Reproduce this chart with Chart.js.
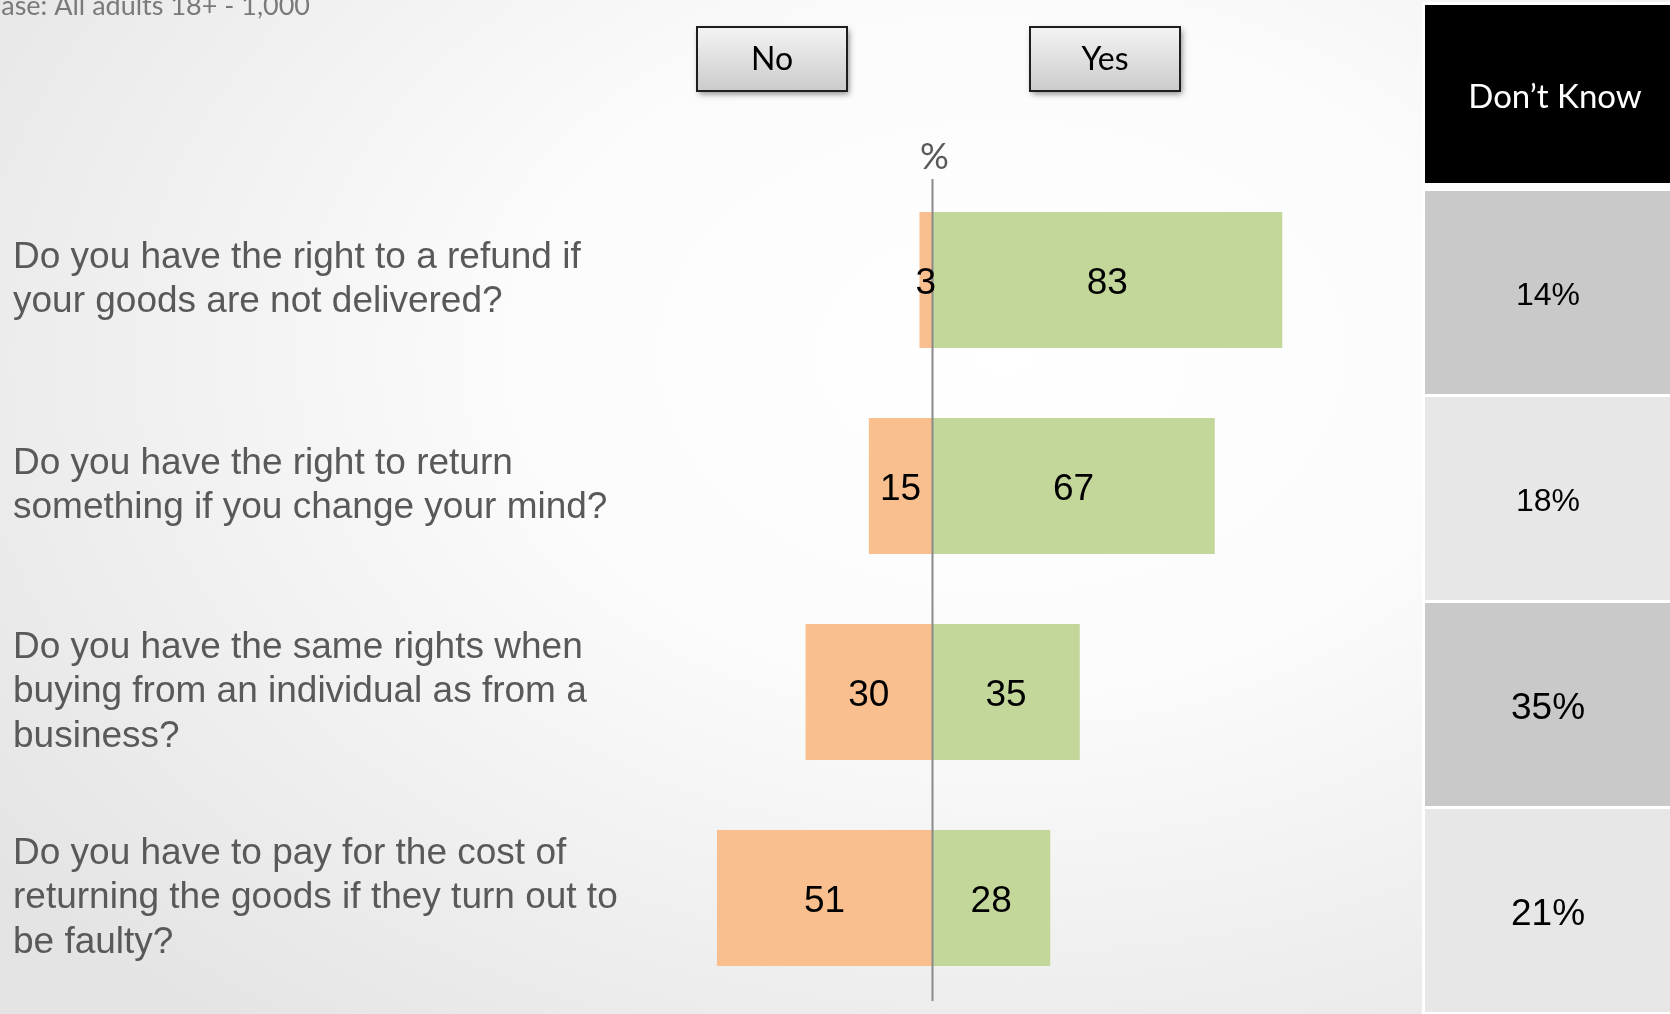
<!DOCTYPE html>
<html>
<head>
<meta charset="utf-8">
<script src="https://cdn.jsdelivr.net/npm/chart.js@4.4.0/dist/chart.umd.min.js"></script>
<style>
  html, body { margin: 0; padding: 0; }
  body {
    width: 1670px; height: 1014px; overflow: hidden;
    background: radial-gradient(ellipse 75% 85% at 60% 35%, #ffffff 0%, #fbfbfb 40%, #e4e4e4 100%);
  }
  canvas { display: block; }
</style>
</head>
<body>
<canvas id="dataChart" width="1670" height="1014"></canvas>
<script>
// questions (y axis), each one split into lines
const QUESTIONS = [
    ['Do you have the right to a refund if', 'your goods are not delivered?'],
    ['Do you have the right to return', 'something if you change your mind?'],
    ['Do you have the same rights when', 'buying from an individual as from a', 'business?'],
    ['Do you have to pay for the cost of', 'returning the goods if they turn out to', 'be faulty?']
];
const NO_VALUES = [3, 15, 30, 51];
const YES_VALUES = [83, 67, 35, 28];
const DONT_KNOW = [14, 18, 35, 21];
const SERIES_NAMES = ['No', 'Yes'];
const DONT_KNOW_TITLE = 'Don\u2019t Know';
const BASE_TEXT = 'Base: All adults 18+ - 1,000';

const ARIAL = '"Liberation Sans", Arial, sans-serif';
const CALIBRI = 'Lato, "Open Sans", sans-serif';

function drawButton(ctx, x, y, w, h, text) {
    ctx.save();
    ctx.shadowColor = 'rgba(0,0,0,0.45)';
    ctx.shadowBlur = 6;
    ctx.shadowOffsetX = 2;
    ctx.shadowOffsetY = 3;
    var g = ctx.createLinearGradient(0, y, 0, y + h);
    g.addColorStop(0, '#f4f4f4');
    g.addColorStop(1, '#cbcbcb');
    ctx.fillStyle = g;
    ctx.fillRect(x, y, w, h);
    ctx.restore();
    ctx.save();
    ctx.strokeStyle = '#1e1e1e';
    ctx.lineWidth = 2;
    ctx.strokeRect(x, y, w, h);
    ctx.fillStyle = '#000';
    ctx.font = '32px ' + CALIBRI;
    ctx.textAlign = 'center';
    ctx.textBaseline = 'middle';
    ctx.fillText(text, x + w / 2, y + h / 2 + 1);
    ctx.restore();
}

var extrasPlugin = {
    id: 'extras',
    afterDatasetsDraw: function (chart) {
        var ctx = chart.ctx;
        var xs = chart.scales.x, ys = chart.scales.y, area = chart.chartArea;
        ctx.save();

        // zero line
        var x0 = Math.round(xs.getPixelForValue(0)) + 0.5;
        ctx.strokeStyle = '#8a8a8a';
        ctx.lineWidth = 2;
        ctx.beginPath();
        ctx.moveTo(x0, area.top + 2);
        ctx.lineTo(x0, area.bottom);
        ctx.stroke();

        // value labels in the middle of each bar
        ctx.font = '37px ' + ARIAL;
        ctx.fillStyle = '#000';
        ctx.textAlign = 'center';
        ctx.textBaseline = 'middle';
        chart.data.datasets.forEach(function (ds, i) {
            chart.getDatasetMeta(i).data.forEach(function (bar, j) {
                ctx.fillText(String(Math.abs(ds.data[j])), (bar.x + bar.base) / 2, bar.y + 4);
            });
        });

        // % sign above the axis
        ctx.font = '36px ' + CALIBRI;
        ctx.fillStyle = '#595959';
        ctx.fillText('%', x0 + 2, 157);

        // base text, cut by the top-left corner
        ctx.font = '27px ' + CALIBRI;
        ctx.fillStyle = '#7a7a7a';
        ctx.textAlign = 'right';
        ctx.textBaseline = 'alphabetic';
        ctx.fillText(BASE_TEXT, 310, 15);

        // Don't Know column
        ctx.fillStyle = '#ffffff';
        ctx.fillRect(1422, 2, 248, 1012);
        ctx.fillStyle = '#000000';
        ctx.fillRect(1425, 5, 245, 178);
        ctx.fillStyle = '#ffffff';
        ctx.font = '33px ' + CALIBRI;
        ctx.textAlign = 'center';
        ctx.textBaseline = 'middle';
        ctx.fillText(DONT_KNOW_TITLE, 1555, 97);

        DONT_KNOW.forEach(function (v, i) {
            var c = ys.getPixelForValue(i);
            var top = c - 89, bottom = Math.min(c + 114, 1014);
            ctx.fillStyle = i % 2 === 0 ? '#c9c9c9' : '#e7e7e7';
            ctx.fillRect(1425, top, 245, bottom - top);
            ctx.fillStyle = '#000';
            ctx.font = (i < 2 ? 32 : 37) + 'px ' + ARIAL;
            ctx.fillText(v + '%', 1548, (top + bottom) / 2 + 4);
        });

        // No / Yes boxes
        drawButton(ctx, 697, 27, 150, 64, SERIES_NAMES[0]);
        drawButton(ctx, 1030, 27, 150, 64, SERIES_NAMES[1]);

        ctx.restore();
    }
};

var ctx = document.getElementById('dataChart').getContext('2d');
var myChart = new Chart(ctx, {
    type: 'bar',
    data: {
        labels: QUESTIONS,
        datasets: [{
            label: SERIES_NAMES[0],
            data: NO_VALUES.map(function (v) { return -v; }),
            backgroundColor: '#f9bf8f',
            borderWidth: 0,
            barPercentage: 0.66,
            categoryPercentage: 1.0
        }, {
            label: SERIES_NAMES[1],
            data: YES_VALUES,
            backgroundColor: '#c4d79b',
            borderWidth: 0,
            barPercentage: 0.66,
            categoryPercentage: 1.0
        }]
    },
    options: {
        indexAxis: 'y',
        responsive: false,
        animation: false,
        layout: { padding: { left: 13, right: 316, top: 177, bottom: 13 } },
        plugins: {
            legend: { display: false },
            tooltip: { enabled: false }
        },
        scales: {
            x: { stacked: true, display: false, min: -60, max: 100 },
            y: {
                stacked: true,
                grid: { display: false },
                border: { display: false },
                ticks: {
                    crossAlign: 'far',
                    padding: 0,
                    autoSkip: false,
                    color: '#595959',
                    font: { family: ARIAL, size: 37, lineHeight: 1.2 }
                },
                afterFit: function (scale) {
                    scale.width = 666;
                    // labels may overhang, the layout padding is enough
                    scale.paddingTop = 0;
                    scale.paddingBottom = 0;
                }
            }
        }
    },
    plugins: [extrasPlugin]
});
</script>
</body>
</html>
